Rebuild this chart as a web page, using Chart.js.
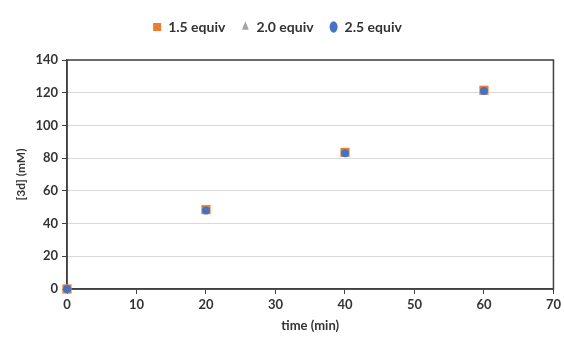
<!DOCTYPE html>
<html>
<head>
<meta charset="utf-8">
<script src="https://cdn.jsdelivr.net/npm/chart.js@4"></script>
<style>
  html, body { margin: 0; padding: 0; background: #fff; }
  #wrap { width: 564px; height: 338px; }
</style>
</head>
<body>
<div id="wrap"><canvas id="myChart" width="564" height="338"></canvas></div>
<script>
const times = [0, 20, 40, 60];
const equiv15 = [0, 48.5, 83.5, 121.5];
const equiv20 = [0, 47.5, 82.5, 120.5];
const equiv25 = [0, 48, 83, 121];
const xTicks = [0, 10, 20, 30, 40, 50, 60, 70];
const yTicks = [0, 20, 40, 60, 80, 100, 120, 140];

const toPoints = vals => times.map((t, i) => ({ x: t, y: vals[i] }));
const textColor = '#333333';
const font = { family: 'Lato', size: 13, weight: 'bold' };

// frame around the plot area (top and right edges)
const frame = {
    id: 'frame',
    beforeDatasetsDraw(chart) {
        const a = chart.chartArea;
        const c = chart.ctx;
        c.save();
        c.strokeStyle = '#404040';
        c.lineWidth = 1.5;
        c.strokeRect(a.left, a.top, a.right - a.left, a.bottom - a.top);
        c.restore();
    }
};

// extra space under the legend
const legendGap = {
    id: 'legendGap',
    beforeInit(chart) {
        const fit = chart.legend.fit;
        chart.legend.fit = function () {
            fit.bind(chart.legend)();
            this.height += 16;
        };
    }
};

const ctx = document.getElementById('myChart').getContext('2d');
const myChart = new Chart(ctx, {
    type: 'scatter',
    data: {
        datasets: [{
            label: '1.5 equiv',
            data: toPoints(equiv15),
            pointStyle: 'rect',
            pointRadius: 6.5,
            backgroundColor: '#ED7D31',
            borderColor: '#ED7D31',
            borderWidth: 0,
            clip: false,
            order: 3
        },
        {
            label: '2.0 equiv',
            data: toPoints(equiv20),
            pointStyle: 'triangle',
            pointRadius: 5,
            backgroundColor: '#A5A5A5',
            borderColor: '#A5A5A5',
            borderWidth: 0,
            clip: false,
            order: 2
        },
        {
            label: '2.5 equiv',
            data: toPoints(equiv25),
            pointStyle: 'circle',
            pointRadius: 4,
            backgroundColor: '#4472C4',
            borderColor: '#4472C4',
            borderWidth: 0,
            clip: false,
            order: 1
        }]
    },
    options: {
        responsive: false,
        animation: false,
        layout: { padding: { top: 4, right: 9, bottom: 0, left: 0 } },
        plugins: {
            legend: {
                display: true,
                position: 'top',
                labels: {
                    usePointStyle: true,
                    pointStyleWidth: 8,
                    boxHeight: 8,
                    padding: 16,
                    color: textColor,
                    font: { family: 'Lato', size: 14, weight: 'bold' },
                    sort: (a, b) => a.datasetIndex - b.datasetIndex,
                    generateLabels: chart => Chart.defaults.plugins.legend.labels.generateLabels(chart).map(l => {
                        l.pointStyle = chart.data.datasets[l.datasetIndex].pointStyle;
                        return l;
                    })
                }
            },
            tooltip: { enabled: false }
        },
        scales: {
            x: {
                type: 'linear',
                min: 0,
                max: 70,
                afterBuildTicks: s => { s.ticks = xTicks.map(v => ({ value: v })); },
                afterFit: s => { s.height = 49; },
                grid: {
                    drawOnChartArea: false,
                    tickLength: 5,
                    tickColor: '#404040'
                },
                border: { display: true, color: '#404040', width: 1.5 },
                ticks: { color: textColor, font: font, padding: 3 },
                title: { display: true, text: 'time (min)', color: textColor, font: font, padding: { top: 1 } }
            },
            y: {
                type: 'linear',
                min: 0,
                max: 140,
                afterBuildTicks: s => { s.ticks = yTicks.map(v => ({ value: v })); },
                afterFit: s => { s.width = 67; },
                grid: {
                    color: '#D9D9D9',
                    tickLength: 5,
                    tickColor: '#404040'
                },
                border: { display: true, color: '#404040', width: 1.5 },
                ticks: { color: textColor, font: font, padding: 4 },
                title: { display: true, text: '[3d] (mM)', color: textColor, font: { family: 'Lato', size: 12, weight: 'bold' }, padding: { top: 14, bottom: 0 } }
            }
        }
    },
    plugins: [frame, legendGap]
});
</script>
</body>
</html>
